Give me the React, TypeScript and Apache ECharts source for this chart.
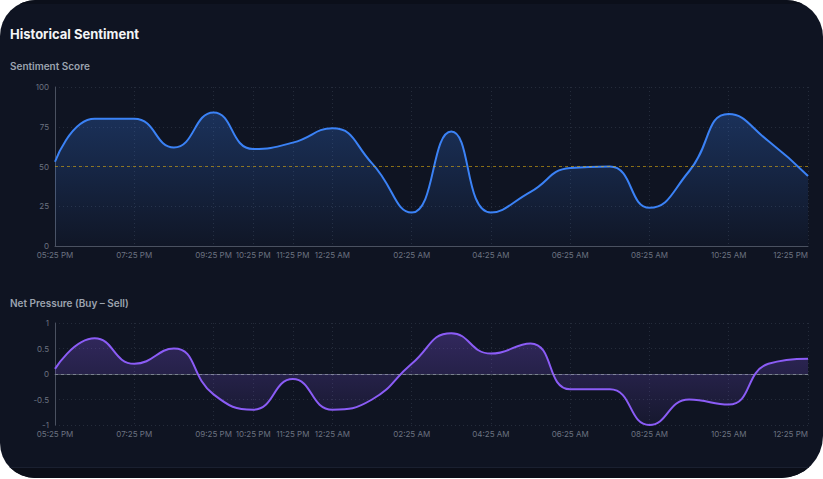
import React, { useEffect, useRef } from "react";
import * as echarts from "echarts";

const categories = [
  "05:25 PM", "06:25 PM", "07:25 PM", "08:25 PM", "09:25 PM", "10:25 PM", "11:25 PM",
  "12:25 AM", "01:25 AM", "02:25 AM", "03:25 AM", "04:25 AM", "05:25 AM", "06:25 AM",
  "07:25 AM", "08:25 AM", "09:25 AM", "10:25 AM", "11:25 AM", "12:25 PM",
];
const tickLabels = [
  "05:25 PM", "07:25 PM", "09:25 PM", "10:25 PM", "11:25 PM", "12:25 AM",
  "02:25 AM", "04:25 AM", "06:25 AM", "08:25 AM", "10:25 AM", "12:25 PM",
];
const sentimentScore = [53, 80, 80, 62, 84, 61, 65, 74, 52, 21, 72, 21, 34, 49, 50, 24, 47, 83, 66, 44];
const netPressure = [0.1, 0.7, 0.2, 0.5, -0.4, -0.7, -0.1, -0.7, -0.5, 0.2, 0.8, 0.4, 0.6, -0.3, -0.3, -1.0, -0.5, -0.6, 0.2, 0.3];
const scoreTicks = { min: 0, max: 100, interval: 25 };
const pressureTicks = { min: -1, max: 1, interval: 0.5 };
const neutralScore = 50;
const neutralPressure = 0;

const FONT = "Inter, 'Noto Sans', sans-serif";
const AXIS_TEXT = "#6b7280";
const GRID_LINE = "#252c3b";
const AXIS_LINE = "#4a5160";

const showTick = (_i: number, v: string) => tickLabels.includes(v);

function xAxisFor(gridIndex: number) {
  return {
    type: "category",
    gridIndex,
    data: categories,
    boundaryGap: false,
    axisLine: { show: true, lineStyle: { color: AXIS_LINE, width: 1 } },
    axisTick: { show: false },
    axisLabel: {
      interval: showTick,
      color: AXIS_TEXT,
      fontSize: 8,
      fontFamily: FONT,
      margin: 5,
      alignMaxLabel: "right",
    },
    splitLine: {
      show: true,
      interval: showTick,
      lineStyle: { color: GRID_LINE, type: [1, 3], width: 1 },
    },
  };
}

export default function App() {
  const ref = useRef<HTMLDivElement>(null);
  useEffect(() => {
    if (!ref.current) return;
    const chart = echarts.init(ref.current, null, { renderer: "svg" });
    chart.setOption({
      animation: false,
      backgroundColor: "transparent",
      title: [
        {
          text: "Historical Sentiment",
          left: 10,
          top: 27,
          padding: 0,
          textStyle: { color: "#f3f4f6", fontSize: 13, fontWeight: 700, fontFamily: FONT },
        },
        {
          text: "Sentiment Score",
          left: 10,
          top: 61,
          padding: 0,
          textStyle: { color: "#9ca3af", fontSize: 10, fontWeight: 600, fontFamily: FONT },
        },
        {
          text: "Net Pressure (Buy – Sell)",
          left: 10,
          top: 298,
          padding: 0,
          textStyle: { color: "#9ca3af", fontSize: 10, fontWeight: 600, fontFamily: FONT },
        },
      ],
      grid: [
        { left: 55, top: 87, width: 753, height: 159 },
        { left: 55, top: 323, width: 753, height: 102 },
      ],
      xAxis: [xAxisFor(0), xAxisFor(1)],
      yAxis: [
        {
          type: "value",
          gridIndex: 0,
          ...scoreTicks,
          axisLine: { show: true, lineStyle: { color: AXIS_LINE } },
          axisTick: { show: false },
          axisLabel: { color: AXIS_TEXT, fontSize: 8, fontFamily: FONT, margin: 6 },
          splitLine: { show: true, lineStyle: { color: GRID_LINE, type: [1, 3] } },
        },
        {
          type: "value",
          gridIndex: 1,
          ...pressureTicks,
          axisLine: { show: true, lineStyle: { color: AXIS_LINE } },
          axisTick: { show: false },
          axisLabel: { color: AXIS_TEXT, fontSize: 8, fontFamily: FONT, margin: 6 },
          splitLine: { show: true, lineStyle: { color: GRID_LINE, type: [1, 3] } },
        },
      ],
      series: [
        {
          type: "line",
          name: "Sentiment Score",
          xAxisIndex: 0,
          yAxisIndex: 0,
          data: sentimentScore,
          smooth: 0.5,
          showSymbol: false,
          lineStyle: { color: "#3b82f6", width: 2 },
          areaStyle: {
            color: new echarts.graphic.LinearGradient(0, 0, 0, 1, [
              { offset: 0, color: "rgba(59,130,246,0.38)" },
              { offset: 1, color: "rgba(59,130,246,0.03)" },
            ]),
          },
          markLine: {
            silent: true,
            symbol: "none",
            label: { show: false },
            lineStyle: { color: "rgba(234,179,8,0.55)", type: [3, 3], width: 1 },
            data: [{ yAxis: neutralScore }],
          },
        },
        {
          type: "line",
          name: "Net Pressure",
          xAxisIndex: 1,
          yAxisIndex: 1,
          data: netPressure,
          smooth: 0.5,
          showSymbol: false,
          lineStyle: { color: "#8b5cf6", width: 2 },
          areaStyle: {
            color: new echarts.graphic.LinearGradient(0, 0, 0, 1, [
              { offset: 0, color: "rgba(139,92,246,0.40)" },
              { offset: 1, color: "rgba(139,92,246,0.08)" },
            ]),
          },
          markLine: {
            silent: true,
            symbol: "none",
            label: { show: false },
            lineStyle: { color: "rgba(156,163,175,0.6)", type: [3, 3], width: 1 },
            data: [{ yAxis: neutralPressure }],
          },
        },
      ],
    });
    return () => chart.dispose();
  }, []);

  return (
    <div style={{ position: "fixed", left: 0, top: 0, width: 823, height: 479, background: "#ffffff" }}>
      <div
        style={{
          position: "absolute",
          left: 0,
          top: 0,
          width: 823,
          height: 478,
          background: "#0f1422",
          borderRadius: "36px 37px 42px 35px",
          overflow: "hidden",
        }}
      >
        <div style={{ position: "absolute", left: 0, right: 0, top: 0, height: 4, background: "#0b0f1a" }} />
        <div
          style={{
            position: "absolute",
            left: 0,
            right: 0,
            top: 467,
            bottom: 0,
            background: "#0b0e18",
            borderTop: "1px solid #1a2030",
          }}
        />
        <div ref={ref} style={{ position: "absolute", left: 0, top: 0, width: 823, height: 479 }} />
      </div>
    </div>
  );
}
